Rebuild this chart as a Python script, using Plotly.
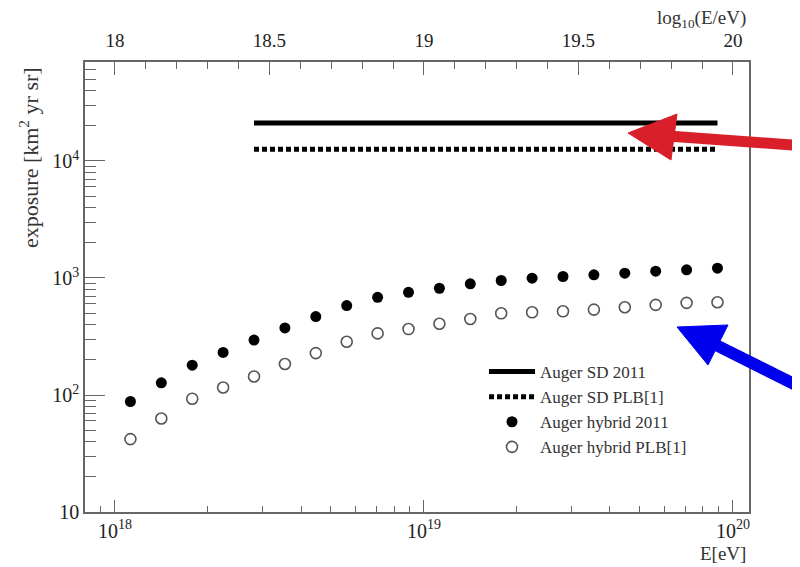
import plotly.graph_objects as go

# ---------------- data ----------------
log_E = [18.05, 18.15, 18.25, 18.35, 18.45, 18.55, 18.65, 18.75, 18.85, 18.95,
         19.05, 19.15, 19.25, 19.35, 19.45, 19.55, 19.65, 19.75, 19.85, 19.95]
hybrid_2011 = [88, 127, 180, 231, 295, 374, 468, 581, 684, 755,
               817, 891, 952, 996, 1030, 1065, 1099, 1143, 1175, 1213]
hybrid_plb = [42, 63, 93, 116, 144, 184, 228, 285, 336, 366,
              406, 446, 499, 509, 519, 537, 562, 589, 613, 620]
sd_log_E = [18.45, 19.95]
sd_2011 = [21100, 21100]
sd_plb = [12600, 12600]

bottom_tick_vals = [1e18, 1e19, 1e20]
bottom_tick_text = ["10<sup>18</sup>", "10<sup>19</sup>", "10<sup>20</sup>"]
left_tick_vals = [10.0, 100.0, 1000.0, 10000.0]
left_tick_text = ["10", "10<sup>2</sup>", "10<sup>3</sup>", "10<sup>4</sup>"]
top_tick_vals = [18, 18.5, 19, 19.5, 20]
top_tick_text = ["18", "18.5", "19", "19.5", "20"]

E = [10.0 ** v for v in log_E]
sd_E = [10.0 ** v for v in sd_log_E]

# ---------------- layout geometry ----------------
# the page body has an 8px margin, so the figure is 792x559 drawn at (8, 8)
W, H = 792, 559
L, R, T, B = 77, 51, 54, 55
PX0, PY1, PW, PH = 85, 512, 664, 450   # plot area in screen pixels
XR = [17.903, 20.052]
YR = [1.0, 4.846]

def px(x, y):
    return (x - PX0) / PW, (PY1 - y) / PH

FONT = "Liberation Serif, Times New Roman, serif"
AX = "#666666"

fig = go.Figure()

fig.add_trace(go.Scatter(x=sd_E, y=sd_2011, mode="lines", name="Auger SD 2011",
                         line=dict(color="black", width=5)))
fig.add_trace(go.Scatter(x=sd_E, y=sd_plb, mode="lines", name="Auger SD PLB[1]",
                         line=dict(color="black", width=5, dash="5px,3px")))
fig.add_trace(go.Scatter(x=E, y=hybrid_2011, mode="markers", name="Auger hybrid 2011",
                         marker=dict(symbol="circle", size=11, color="black",
                                     line=dict(width=0))))
fig.add_trace(go.Scatter(x=E, y=hybrid_plb, mode="markers", name="Auger hybrid PLB[1]",
                         marker=dict(symbol="circle-open", size=11, color="#555555",
                                     line=dict(width=1.6, color="#555555"))))
# invisible trace for the top axis
fig.add_trace(go.Scatter(x=XR, y=[None, None], xaxis="x2", showlegend=False,
                         hoverinfo="skip", mode="lines"))

minor_x = []
for d in [17, 18, 19]:
    for m in range(2, 10):
        minor_x.append(float(m) * 10.0 ** d)
minor_y = []
for d in [1, 2, 3, 4]:
    for m in range(2, 10):
        minor_y.append(float(m) * 10.0 ** d)

fig.update_layout(
    width=W, height=H,
    margin=dict(l=L, r=R, t=T, b=B, pad=0, autoexpand=False),
    paper_bgcolor="white", plot_bgcolor="white",
    font=dict(family=FONT, color="#222222", size=19),
    showlegend=True,
    legend=dict(x=px(484, 0)[0], y=px(0, 354)[1], xanchor="left", yanchor="top",
                bgcolor="rgba(0,0,0,0)", borderwidth=0,
                font=dict(family=FONT, size=17, color="#333333"),
                itemwidth=46, tracegroupgap=0),
    xaxis=dict(type="log", range=XR, showgrid=False, zeroline=False, automargin=False,
               showline=True, linecolor=AX, linewidth=1.5, mirror=False,
               ticks="inside", ticklen=12, tickwidth=1.3, tickcolor=AX,
               tickmode="array", tickvals=bottom_tick_vals, ticktext=bottom_tick_text,
               tickfont=dict(size=20),
               minor=dict(tickmode="array", tickvals=minor_x, ticks="inside",
                          ticklen=6, tickwidth=1.2, tickcolor=AX, showgrid=False)),
    xaxis2=dict(type="linear", range=XR, overlaying="x", side="top", anchor="y",
                automargin=False, ticklabelstandoff=6,
                showgrid=False, zeroline=False, showline=True, linecolor=AX,
                linewidth=1.5, ticks="inside", ticklen=13, tickwidth=1.3,
                tickcolor=AX, tickmode="array", tickvals=top_tick_vals,
                ticktext=top_tick_text, tickfont=dict(size=19),
                minor=dict(dtick=0.1, tick0=18, ticks="inside", ticklen=7,
                           tickwidth=1.2, tickcolor=AX, showgrid=False)),
    yaxis=dict(type="log", range=YR, showgrid=False, zeroline=False, automargin=False,
               showline=True, linecolor=AX, linewidth=1.5, mirror=True,
               ticks="inside", ticklen=20, tickwidth=1.3, tickcolor=AX,
               tickmode="array", tickvals=left_tick_vals, ticktext=left_tick_text,
               tickfont=dict(size=20),
               minor=dict(tickmode="array", tickvals=minor_y, ticks="inside",
                          ticklen=11, tickwidth=1.2, tickcolor=AX, showgrid=False)),
)

# axis titles
tx, ty = px(29, 158)
fig.add_annotation(x=tx, y=ty, xref="paper", yref="paper", showarrow=False,
                   xanchor="center", yanchor="middle",
                   text="exposure [km<sup>2</sup> yr sr]", textangle=-90,
                   font=dict(size=22, family=FONT, color="#333333"))
ex, ey = px(748, 553)
fig.add_annotation(x=ex, y=ey, xref="paper", yref="paper", showarrow=False,
                   xanchor="right", yanchor="middle", text="E[eV]",
                   font=dict(size=19, family=FONT, color="#333333"))
lx, ly = px(748, 19)
fig.add_annotation(x=lx, y=ly, xref="paper", yref="paper", showarrow=False,
                   xanchor="right", yanchor="middle", text="log<sub>10</sub>(E/eV)",
                   font=dict(size=19, family=FONT, color="#333333"))

# arrows (annotation overlays)
def poly(points):
    s = ""
    for i, (x, y) in enumerate(points):
        a, b = px(x, y)
        s += ("M" if i == 0 else "L") + f"{a:.5f},{b:.5f} "
    return s + "Z"

RED = "#d81f2a"
BLUE = "#0000ee"
sx0, sy0 = px(668, 136)
sx1, sy1 = px(806, 146)
fig.add_shape(type="line", xref="paper", yref="paper", x0=sx0, y0=sy0, x1=sx1, y1=sy1,
              line=dict(color=RED, width=11))
fig.add_shape(type="path", xref="paper", yref="paper",
              path=poly([(628, 133), (677, 114), (671, 160)]),
              fillcolor=RED, line=dict(color=RED, width=1))

bx0, by0 = px(712, 343)
bx1, by1 = px(806, 390)
fig.add_shape(type="line", xref="paper", yref="paper", x0=bx0, y0=by0, x1=bx1, y1=by1,
              line=dict(color=BLUE, width=12))
fig.add_shape(type="path", xref="paper", yref="paper",
              path=poly([(677, 327), (728, 325), (708, 365)]),
              fillcolor=BLUE, line=dict(color=BLUE, width=1))

fig.write_html("out.html")
